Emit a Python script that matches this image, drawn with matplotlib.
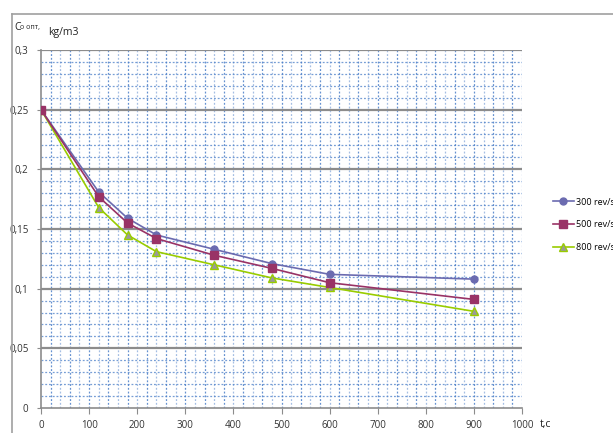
import matplotlib
matplotlib.use("Agg")
import matplotlib.pyplot as plt
from matplotlib.lines import Line2D
import numpy as np

plt.rcParams['font.family'] = ['Open Sans', 'DejaVu Sans']

t = [0, 120, 180, 240, 360, 480, 600, 900]
c300 = [0.250, 0.181, 0.159, 0.145, 0.133, 0.121, 0.112, 0.108]
c500 = [0.250, 0.177, 0.155, 0.142, 0.128, 0.117, 0.105, 0.091]
c800 = [0.250, 0.168, 0.145, 0.131, 0.120, 0.109, 0.101, 0.081]
labels = ["300 rev/s", "500 rev/s", "800 rev/s"]
yticks = [0, 0.05, 0.1, 0.15, 0.2, 0.25, 0.3]
ylabels = ["0", "0,05", "0,1", "0,15", "0,2", "0,25", "0,3"]
xticks = list(range(0, 1001, 100))

fig = plt.figure(figsize=(6.13, 4.33), dpi=100)
ax = fig.add_axes([41/613, 25/433, 481/613, 358/433])

# chart border
fig.add_artist(Line2D([12/613, 12/613], [0, 1 - 14/433], color='#a0a0a0', lw=1.2))
fig.add_artist(Line2D([12/613, 1], [1 - 14/433, 1 - 14/433], color='#a0a0a0', lw=1.2))

ax.set_xlim(0, 1000)
ax.set_ylim(0, 0.3)

# minor grid
for yv in np.arange(0.01, 0.3, 0.01):
    if abs(yv / 0.05 - round(yv / 0.05)) > 1e-6:
        ax.axhline(yv, color='#4a7ec8', lw=0.9, ls=(0, (1.5, 1.5)), alpha=0.75, zorder=1)
for i, xv in enumerate(np.arange(20, 1001, 20)):
    ax.axvline(xv, color='#4a7ec8', lw=0.9, ls=(0, (1.5, 1.5)),
               alpha=0.85 if i % 2 == 0 else 0.5, zorder=1)
for yv in yticks[1:]:
    ax.axhline(yv, color='#8c8c8c', lw=1.6, zorder=2)

ax.plot(t, c300, color='#6b6bb0', lw=1.2, marker='o', ms=5, mfc='#6b6bb0', mec='#6b6bb0', zorder=5, label=labels[0])
ax.plot(t, c500, color='#993366', lw=1.2, marker='s', ms=6, mfc='#993366', mec='#993366', zorder=6, label=labels[1])
ax.plot(t, c800, color='#99cc00', lw=1.2, marker='^', ms=6, mfc='#9a9a9a', mec='#99cc00', zorder=4, label=labels[2])

ax.set_yticks(yticks)
ax.set_yticklabels(ylabels)
ax.set_xticks(xticks)
ax.tick_params(axis='y', length=3, pad=6, labelsize=7, colors='#333333')
ax.tick_params(axis='x', length=4, pad=4.5, labelsize=7, colors='#333333')
for s in ['top', 'right']:
    ax.spines[s].set_visible(False)
for s in ['left', 'bottom']:
    ax.spines[s].set_color('#8c8c8c')
    ax.spines[s].set_linewidth(1.2)
ax.tick_params(axis='both', color='#8c8c8c')

fig.text(14/613, 1 - 27/433, "C", fontsize=7.5, va='center', ha='left', color='#222222')
fig.text(20/613, 1 - 28/433, "о опт,", fontsize=5, va='center', ha='left', color='#222222')
fig.text(48/613, 1 - 33/433, "kg/m3", fontsize=7.5, va='center', ha='left', color='#222222')
fig.text(545/613, 1 - 424/433, "t,c", fontsize=7.5, va='center', ha='center', color='#222222')

ax.legend(loc='upper left', bbox_to_anchor=(549/613, 1 - 194/433), bbox_transform=fig.transFigure,
          frameon=False, fontsize=6.5, handlelength=2.4, labelspacing=1.5, handletextpad=0.2, borderaxespad=0)

fig.savefig("out.png", dpi=100)
